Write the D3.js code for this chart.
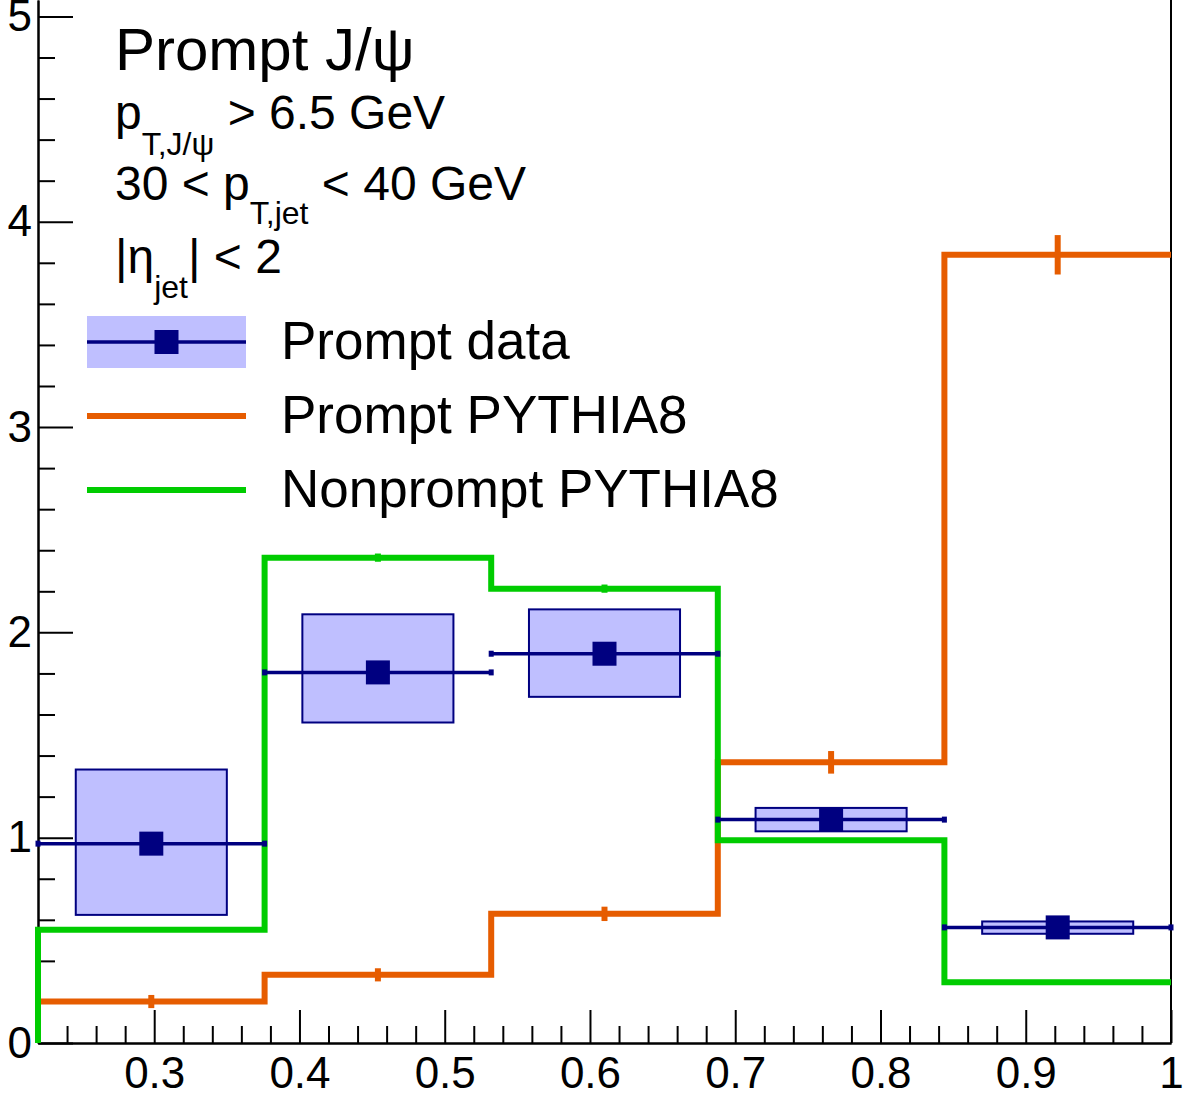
<!DOCTYPE html>
<html>
<head>
<meta charset="utf-8">
<script src="https://cdn.jsdelivr.net/npm/d3@7"></script>
<style>
  body { margin: 0; background: #fff; }
  svg { display: block; font-family: "Liberation Sans", Arial, Helvetica, sans-serif; }
</style>
</head>
<body>
<svg width="1188" height="1098"></svg>
<script>
// bin edges of the histograms
var binEdges = [0.22, 0.376, 0.532, 0.688, 0.844, 1.0];

// prompt data: value and systematic box
var dataY = [0.971, 1.805, 1.896, 1.088, 0.563];
var dataSysLo = [0.624, 1.561, 1.686, 1.031, 0.532];
var dataSysHi = [1.332, 2.088, 2.112, 1.145, 0.592];

// PYTHIA8 curves
var promptY = [0.202, 0.332, 0.629, 1.367, 3.839];
var promptErr = [0.032, 0.032, 0.035, 0.055, 0.096];
var nonpromptY = [0.551, 2.364, 2.213, 0.987, 0.296];
var nonpromptErr = [0.008, 0.02, 0.02, 0.008, 0.008];

var xTicks = [0.3, 0.4, 0.5, 0.6, 0.7, 0.8, 0.9, 1.0];
var xTickLabels = ["0.3", "0.4", "0.5", "0.6", "0.7", "0.8", "0.9", "1"];
var yTicks = [0, 1, 2, 3, 4, 5];

var navy = "#000080";
var boxFill = "#bfbfff";
var orange = "#e65c00";
var green = "#00cc00";

var svg = d3.select("svg");

var xScale = d3.scaleLinear().domain([0.22, 1.0]).range([38, 1171]);
var yScale = d3.scaleLinear().domain([0, 5.08]).range([1043, 0]);

var left = xScale.range()[0], right = xScale.range()[1];
var bottom = yScale.range()[0];

var drawAxes = function()
{
    // minor ticks every 0.02 on x and 0.2 on y
    var xMinor = d3.range(12, 50).map(function(i){ return i / 50; })
        .filter(function(v){ return Math.abs(v * 10 - Math.round(v * 10)) > 1e-6; });
    var yMinor = d3.range(0, 26).map(function(i){ return i / 5; })
        .filter(function(v){ return Math.abs(v - Math.round(v)) > 1e-6; });

    svg.append("g").attr("transform", "translate(0," + bottom + ")")
        .call(d3.axisBottom(xScale).tickValues(xMinor).tickSizeInner(-17).tickSizeOuter(0).tickFormat(""));
    svg.append("g").attr("transform", "translate(0," + bottom + ")")
        .call(d3.axisBottom(xScale).tickValues(xTicks).tickSizeInner(-33).tickSizeOuter(0)
        .tickPadding(14).tickFormat(function(d, i){ return xTickLabels[i]; }));

    svg.append("g").attr("transform", "translate(" + left + ",0)")
        .call(d3.axisLeft(yScale).tickValues(yMinor).tickSizeInner(-17).tickSizeOuter(0).tickFormat(""));
    svg.append("g").attr("transform", "translate(" + left + ",0)")
        .call(d3.axisLeft(yScale).tickValues(yTicks).tickSizeInner(-35).tickSizeOuter(0)
        .tickPadding(6).tickFormat(d3.format("d")));

    svg.selectAll(".tick line").attr("stroke", "#000").attr("stroke-width", 2);
    svg.selectAll(".domain").attr("stroke", "#000").attr("stroke-width", 2);
    svg.selectAll(".tick text").attr("font-size", 44).attr("fill", "#000")
        .attr("font-family", "Liberation Sans, Arial, sans-serif");

    svg.append("line")
        .attr("x1", right).attr("x2", right).attr("y1", 0).attr("y2", bottom)
        .attr("stroke", "#000").attr("stroke-width", 2);
}

var stepPoints = function(values)
{
    var pts = [[binEdges[0], 0]];
    values.forEach(function(v, i){
        pts.push([binEdges[i], v]);
        pts.push([binEdges[i + 1], v]);
    });
    return pts;
}

var drawHist = function(values, errs, color)
{
    var line = d3.line()
        .x(function(p){ return xScale(p[0]); })
        .y(function(p){ return yScale(p[1]); });
    svg.append("path")
        .attr("d", line(stepPoints(values)))
        .attr("fill", "none")
        .attr("stroke", color)
        .attr("stroke-width", 6)
        .attr("stroke-linejoin", "miter");

    svg.append("g").selectAll("line").data(values).enter().append("line")
        .attr("x1", function(v, i){ return xScale((binEdges[i] + binEdges[i + 1]) / 2); })
        .attr("x2", function(v, i){ return xScale((binEdges[i] + binEdges[i + 1]) / 2); })
        .attr("y1", function(v, i){ return yScale(v - errs[i]); })
        .attr("y2", function(v, i){ return yScale(v + errs[i]); })
        .attr("stroke", color)
        .attr("stroke-width", 6);
}

var drawData = function()
{
    var g = svg.append("g");
    var bins = dataY.map(function(v, i){
        return { lo: binEdges[i], hi: binEdges[i + 1], c: (binEdges[i] + binEdges[i + 1]) / 2,
                 w: binEdges[i + 1] - binEdges[i], y: v, sLo: dataSysLo[i], sHi: dataSysHi[i] };
    });

    g.selectAll("rect.sys").data(bins).enter().append("rect")
        .attr("class", "sys")
        .attr("x", function(b){ return xScale(b.c - b.w / 3); })
        .attr("width", function(b){ return xScale(b.c + b.w / 3) - xScale(b.c - b.w / 3); })
        .attr("y", function(b){ return yScale(b.sHi); })
        .attr("height", function(b){ return yScale(b.sLo) - yScale(b.sHi); })
        .attr("fill", boxFill)
        .attr("stroke", navy)
        .attr("stroke-width", 2);

    g.selectAll("line.err").data(bins).enter().append("line")
        .attr("class", "err")
        .attr("x1", function(b){ return xScale(b.lo); })
        .attr("x2", function(b){ return xScale(b.hi); })
        .attr("y1", function(b){ return yScale(b.y); })
        .attr("y2", function(b){ return yScale(b.y); })
        .attr("stroke", navy)
        .attr("stroke-width", 3.5);

    // little caps at the ends of the x error bars
    var caps = [];
    bins.forEach(function(b){ caps.push([b.lo, b.y]); caps.push([b.hi, b.y]); });
    g.selectAll("rect.cap").data(caps).enter().append("rect")
        .attr("class", "cap")
        .attr("x", function(p){ return xScale(p[0]) - 2.5; })
        .attr("y", function(p){ return yScale(p[1]) - 3; })
        .attr("width", 5).attr("height", 6)
        .attr("fill", navy);

    g.selectAll("rect.mk").data(bins).enter().append("rect")
        .attr("class", "mk")
        .attr("x", function(b){ return xScale(b.c) - 12; })
        .attr("y", function(b){ return yScale(b.y) - 12; })
        .attr("width", 24).attr("height", 24)
        .attr("fill", navy);
}

var drawText = function()
{
    svg.append("text").attr("x", 115).attr("y", 70).attr("font-size", 60).text("Prompt J/\u03C8");

    var t1 = svg.append("text").attr("x", 115).attr("y", 129).attr("font-size", 48);
    t1.append("tspan").text("p");
    t1.append("tspan").attr("dy", 26).attr("font-size", 32).text("T,J/\u03C8");
    t1.append("tspan").attr("dy", -26).text(" > 6.5 GeV");

    var t2 = svg.append("text").attr("x", 115).attr("y", 200).attr("font-size", 48);
    t2.append("tspan").text("30 < p");
    t2.append("tspan").attr("dy", 24).attr("font-size", 32).text("T,jet");
    t2.append("tspan").attr("dy", -24).text(" < 40 GeV");

    var t3 = svg.append("text").attr("x", 115).attr("y", 273).attr("font-size", 48);
    t3.append("tspan").text("|\u03B7");
    t3.append("tspan").attr("dy", 25).attr("font-size", 32).text("jet");
    t3.append("tspan").attr("dy", -25).text("| < 2");
}

var drawLegend = function()
{
    var g = svg.append("g");
    var x0 = 87, x1 = 246;
    g.append("rect").attr("x", x0).attr("y", 316).attr("width", x1 - x0).attr("height", 52).attr("fill", boxFill);
    g.append("line").attr("x1", x0).attr("x2", x1).attr("y1", 342).attr("y2", 342)
        .attr("stroke", navy).attr("stroke-width", 3.5);
    g.append("rect").attr("x", (x0 + x1) / 2 - 12).attr("y", 330).attr("width", 24).attr("height", 24).attr("fill", navy);
    g.append("line").attr("x1", x0).attr("x2", x1).attr("y1", 416).attr("y2", 416)
        .attr("stroke", orange).attr("stroke-width", 6);
    g.append("line").attr("x1", x0).attr("x2", x1).attr("y1", 490).attr("y2", 490)
        .attr("stroke", green).attr("stroke-width", 6);

    var labels = ["Prompt data", "Prompt PYTHIA8", "Nonprompt PYTHIA8"];
    var baselines = [359, 433, 507];
    g.selectAll("text").data(labels).enter().append("text")
        .attr("x", 281)
        .attr("y", function(d, i){ return baselines[i]; })
        .attr("font-size", 53)
        .text(function(d){ return d; });
}

drawAxes();
drawHist(promptY, promptErr, orange);
drawHist(nonpromptY, nonpromptErr, green);
drawData();
drawText();
drawLegend();
</script>
</body>
</html>
